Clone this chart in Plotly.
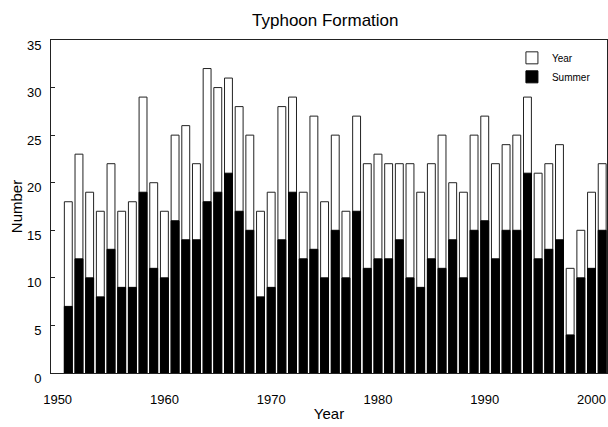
import plotly.graph_objects as go

years = list(range(1951, 2002))
year_counts = [18, 23, 19, 17, 22, 17, 18, 29, 20, 17,
               25, 26, 22, 32, 30, 31, 28, 25, 17, 19,
               28, 29, 19, 27, 18, 25, 17, 27, 22, 23,
               22, 22, 22, 19, 22, 25, 20, 19, 25, 27,
               22, 24, 25, 29, 21, 22, 24, 11, 15, 19,
               22]
summer_counts = [7, 12, 10, 8, 13, 9, 9, 19, 11, 10,
                 16, 14, 14, 18, 19, 21, 17, 15, 8, 9,
                 14, 19, 12, 13, 10, 15, 10, 17, 11, 12,
                 12, 14, 10, 9, 12, 11, 14, 10, 15, 16,
                 12, 15, 15, 21, 12, 13, 14, 4, 10, 11,
                 15]
x_ticks = [1950, 1960, 1970, 1980, 1990, 2000]
y_ticks = [0, 5, 10, 15, 20, 25, 30, 35]

FONT = "Liberation Sans, Arial, sans-serif"

fig = go.Figure()
fig.add_trace(go.Bar(
    x=years, y=year_counts, name="Year", width=0.74,
    marker=dict(color="white", line=dict(color="#222222", width=1)),
))
fig.add_trace(go.Bar(
    x=years, y=summer_counts, name="Summer", width=0.74,
    marker=dict(color="black", line=dict(color="black", width=1)),
))

fig.update_layout(
    width=608, height=427,
    barmode="overlay",
    plot_bgcolor="white", paper_bgcolor="white",
    margin=dict(l=51, r=1, t=40, b=54),
    font=dict(family=FONT, color="black", size=13),
    title=dict(text="Typhoon Formation", x=0.535, xanchor="center",
               y=0.953, yanchor="middle",
               font=dict(size=17, family=FONT, color="black")),
    showlegend=True,
    legend=dict(x=0.829, y=0.99, xanchor="left", yanchor="top",
                bgcolor="rgba(0,0,0,0)", font=dict(size=10, family=FONT),
                traceorder="normal", tracegroupgap=2),
    xaxis=dict(
        range=[1949.38, 2001.45], tickvals=x_ticks, ticks="",
        showline=True, linecolor="#222222", linewidth=1, mirror=True,
        showgrid=False, zeroline=False,
        ticklabelstandoff=14,
        tickfont=dict(size=13, family=FONT),
        title=dict(text="Year", font=dict(size=15, family=FONT), standoff=2),
    ),
    yaxis=dict(
        range=[0, 35], tickvals=y_ticks, ticks="inside", ticklen=4,
        tickcolor="#222222",
        showline=True, linecolor="#222222", linewidth=1, mirror=True,
        showgrid=False, zeroline=False,
        ticklabelstandoff=6, ticklabelshift=5,
        tickfont=dict(size=13, family=FONT),
        title=dict(text="Number", font=dict(size=15, family=FONT), standoff=0),
    ),
)

fig.write_html("out.html", config={"displayModeBar": False},
               post_script="document.body.style.margin='0px';")
